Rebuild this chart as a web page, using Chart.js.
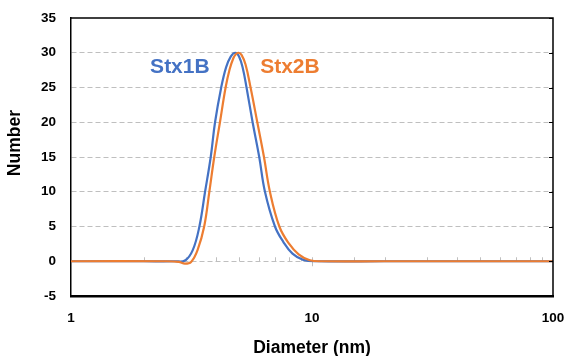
<!DOCTYPE html>
<html>
<head>
<meta charset="utf-8">
<script src="https://cdn.jsdelivr.net/npm/chart.js@4.4.1/dist/chart.umd.min.js"></script>
<style>
  html, body { margin: 0; padding: 0; background: #fff; }
  #wrap { width: 567px; height: 356px; }
</style>
</head>
<body>
<div id="wrap"><canvas id="chart"></canvas></div>
<script>
// size distributions (diameter in nm, number)
const stx1bDiameter = [1, 2.0, 2.7, 2.97, 3.2, 3.41, 3.6, 3.8, 3.96, 4.2, 4.4, 4.6, 4.81, 4.98, 5.16, 5.35, 5.67, 6.04, 6.38, 7.02, 7.6, 8.3, 9.2, 10.5, 20, 100];
const stx1bNumber   = [0, 0, 0, 0.1, 1.6, 5, 10, 15, 20, 25, 27.9, 29.45, 30, 29.45, 27.8, 25, 20, 15, 10, 5, 2.8, 1.1, 0.2, 0, 0, 0];

const stx2bDiameter = [1, 2.5, 2.8, 2.97, 3.15, 3.35, 3.57, 3.75, 3.93, 4.15, 4.38, 4.55, 4.72, 4.83, 4.95, 5.1, 5.3, 5.56, 5.93, 6.32, 6.69, 7.32, 8.0, 8.8, 9.8, 11, 20, 100];
const stx2bNumber   = [0, 0, -0.1, -0.35, -0.1, 1.6, 5, 10, 15, 20, 25, 27.6, 29.25, 29.8, 30, 29.7, 28.3, 25, 20, 15, 10, 5, 2.6, 1.0, 0.15, 0, 0, 0];

const xLabels = [1, 10, 100];
const yTicks = [-5, 0, 5, 10, 15, 20, 25, 30, 35];

const BLUE = '#4472C4';
const ORANGE = '#ED7D31';
const GRID = '#bfbfbf';
const FONT = '"Liberation Sans", Arial, sans-serif';

const toPoints = (xs, ys) => xs.map((x, i) => ({x, y: ys[i]}));

// frame, small ticks on the zero line and right axis, series names, y title
const decorations = {
    id: 'decorations',
    beforeDatasetsDraw(chart) {
        const {ctx, scales: {x, y}} = chart;
        const y0 = y.getPixelForValue(0);
        ctx.save();
        ctx.strokeStyle = GRID;
        ctx.lineWidth = 1;
        x.ticks.forEach(t => {
            if (t.value === 1 || t.value === 100) return;
            const px = Math.round(x.getPixelForValue(t.value)) + 0.5;
            ctx.beginPath();
            ctx.moveTo(px, y0 - 4);
            ctx.lineTo(px, t.value === 10 ? y0 + 5 : y0);
            ctx.stroke();
        });
        ctx.restore();
    },
    afterDatasetsDraw(chart) {
        const {ctx, chartArea: a, scales: {x, y}} = chart;
        ctx.save();
        ctx.strokeStyle = '#000';
        // top and right border
        ctx.lineWidth = 1.5;
        ctx.beginPath();
        ctx.moveTo(a.left, a.top);
        ctx.lineTo(a.right, a.top);
        ctx.lineTo(a.right, a.bottom);
        ctx.stroke();
        // inward ticks on the right edge
        ctx.lineWidth = 1;
        yTicks.forEach(v => {
            const py = Math.round(y.getPixelForValue(v)) + 0.5;
            ctx.beginPath();
            ctx.moveTo(a.right - 4, py);
            ctx.lineTo(a.right, py);
            ctx.stroke();
        });
        // series names
        ctx.font = 'bold 21px ' + FONT;
        ctx.textAlign = 'center';
        ctx.textBaseline = 'middle';
        ctx.fillStyle = BLUE;
        ctx.fillText('Stx1B', x.getPixelForValue(2.83), y.getPixelForValue(27.9));
        ctx.fillStyle = ORANGE;
        ctx.fillText('Stx2B', x.getPixelForValue(8.1), y.getPixelForValue(27.9));
        // y axis title
        ctx.fillStyle = '#000';
        ctx.font = 'bold 17.5px ' + FONT;
        ctx.translate(15, y.getPixelForValue(17));
        ctx.rotate(-Math.PI / 2);
        ctx.fillText('Number', 0, 0);
        ctx.restore();
    }
};

new Chart(document.getElementById('chart'), {
    type: 'line',
    data: {
        datasets: [
            {
                label: 'Stx2B',
                data: toPoints(stx2bDiameter, stx2bNumber),
                borderColor: ORANGE,
                borderWidth: 2.2,
                pointRadius: 0,
                tension: 0.4,
                order: 0,
            },
            {
                label: 'Stx1B',
                data: toPoints(stx1bDiameter, stx1bNumber),
                borderColor: BLUE,
                borderWidth: 2.2,
                pointRadius: 0,
                tension: 0.4,
                order: 1,
            },
        ],
    },
    options: {
        responsive: true,
        maintainAspectRatio: false,
        animation: false,
        layout: { padding: { top: 18, right: 14, left: 0, bottom: 0 } },
        plugins: {
            legend: { display: false },
            tooltip: { enabled: false },
        },
        scales: {
            x: {
                type: 'logarithmic',
                min: 1,
                max: 100,
                afterFit: s => {
                    s.height = 60;
                    s.paddingLeft = 0;
                    s.paddingRight = 0;
                },
                grid: { display: false, drawTicks: false },
                border: { display: true, color: '#000', width: 2.5 },
                ticks: {
                    autoSkip: false,
                    maxRotation: 0,
                    padding: 14,
                    color: '#000',
                    font: { family: FONT, size: 13.5, weight: 'bold' },
                    callback: v => xLabels.includes(v) ? String(v) : '',
                },
                title: {
                    display: true,
                    text: 'Diameter (nm)',
                    color: '#000',
                    font: { family: FONT, size: 17.5, weight: 'bold' },
                    padding: { top: 0, bottom: -3 },
                },
            },
            y: {
                min: -5,
                max: 35,
                afterFit: s => {
                    s.width = 71;
                    s.paddingTop = 0;
                    s.paddingBottom = 0;
                },
                grid: {
                    drawTicks: false,
                    color: c => (c.tick.value === -5 || c.tick.value === 35) ? 'rgba(0,0,0,0)' : GRID,
                    lineWidth: 1,
                },
                border: { display: true, color: '#000', width: 1.5, dash: [5, 3] },
                ticks: {
                    stepSize: 5,
                    padding: 15,
                    color: '#000',
                    font: { family: FONT, size: 13.5, weight: 'bold' },
                },
            },
        },
    },
    plugins: [decorations],
});
</script>
</body>
</html>
